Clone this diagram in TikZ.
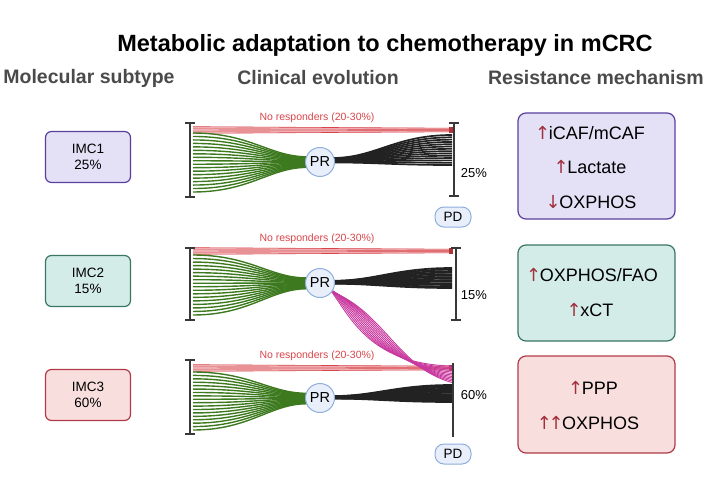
\documentclass[tikz,border=0pt]{standalone}
\usepackage{fontspec}
\setmainfont{Liberation Sans}
\newfontfamily\arrowfont{DejaVu Sans}
\usetikzlibrary{positioning}
\definecolor{headgray}{HTML}{4A4A4A}
\definecolor{purfill}{HTML}{E4E0F6}
\definecolor{purline}{HTML}{5B3F9E}
\definecolor{tealfill}{HTML}{D4ECE7}
\definecolor{tealline}{HTML}{3B7566}
\definecolor{redfill}{HTML}{F9DEDE}
\definecolor{redline}{HTML}{B03A48}
\definecolor{arrowred}{HTML}{A0303C}
\definecolor{prfill}{HTML}{E8EFFA}
\definecolor{prline}{HTML}{8FAEDC}
\definecolor{strandgreen}{HTML}{3D7A1F}
\definecolor{strandblack}{HTML}{222222}
\definecolor{strandpink}{HTML}{C8389E}
\definecolor{respred}{HTML}{D9444A}
\newcommand{\upar}{{\color{arrowred}\arrowfont\char"2191}\kern-1.5pt}
\newcommand{\downar}{{\color{arrowred}\arrowfont\char"2193}\kern-1.5pt}

\begin{document}
\begin{tikzpicture}[x=1pt,y=-1pt,
  header/.style={text=headgray,font=\bfseries\fontsize{19.5}{22}\selectfont},
  subtype/.style={draw,rounded corners=6pt,line width=1.2pt,minimum width=85pt,minimum height=51pt,align=center,font=\fontsize{13.5}{16}\selectfont},
  mech/.style={draw,rounded corners=8pt,line width=1.2pt,minimum width=157pt},
  mechtext/.style={font=\fontsize{18}{20}\selectfont},
  prnode/.style={circle,draw=prline,fill=prfill,line width=1pt,minimum size=29pt,inner sep=0pt,font=\fontsize{14.5}{16}\selectfont},
  pdnode/.style={draw=prline,fill=prfill,line width=1pt,rounded corners=9pt,minimum width=36pt,minimum height=20pt,inner sep=0pt,font=\fontsize{13.5}{15}\selectfont},
  noresp/.style={text=respred,font=\fontsize{10.5}{12}\selectfont},
  pct/.style={font=\fontsize{13}{15}\selectfont},
  bracket/.style={draw=strandblack!90,line width=1.5pt},
  green strand/.style={draw=strandgreen,line width=1.4pt},
  black strand/.style={draw=strandblack,line width=1.7pt},
  pink strand/.style={draw=strandpink,line width=0.9pt},
  red strand/.style={draw=respred,line width=0.6pt}]
\useasboundingbox (0,0) rectangle (706,497);

\node[font=\bfseries\fontsize{23.5}{26}\selectfont] (title) at (385,45) {Metabolic adaptation to chemotherapy in mCRC};
\node[header] (h1) at (89,78) {Molecular subtype};
\node[header] (h2) at (318,78) {Clinical evolution};
\node[header] (h3) at (596,78) {Resistance mechanism};

\node[subtype,draw=purline,fill=purfill] (imc1) at (88,157) {IMC1\\25\%};
\node[subtype,draw=tealline,fill=tealfill] (imc2) at (88,281) {IMC2\\15\%};
\node[subtype,draw=redline,fill=redfill] (imc3) at (88,395) {IMC3\\60\%};

\foreach \yr [count=\n] in {130,251,368}{
  \node[noresp] (nr\n) at (317,\yr-12) {No responders (20-30\%)};
  \fill[respred!35] (193,\yr-3.5) -- (450,\yr-2) -- (450,\yr+2) -- (193,\yr+3.5) -- cycle;
  \foreach \j in {-3,-1,1,3} \draw[red strand] (193,\yr+\j*1.1) -- (450,\yr+\j*0.6);
  \fill[respred!80!black] (449,\yr-3) rectangle (453,\yr+3);
}

\foreach \yc/\ga/\gb/\ka/\kb in {162/133/192/135/165,283/255/315/268/288,398/372/430/385/402}{
  \foreach \i in {0,...,17}{
    \pgfmathsetmacro\ys{\ga+(\gb-\ga)*\i/17}
    \pgfmathsetmacro\ye{\yc+(\ys-\yc)*0.18}
    \draw[green strand] (193,\ys) .. controls (250,\ys) and (270,\ye) .. (307,\ye);
  }
  \foreach \i in {0,...,13}{
    \pgfmathsetmacro\ys{\ka+(\kb-\ka)*\i/13}
    \pgfmathsetmacro\ye{\yc+(\ys-\yc)*0.15}
    \draw[black strand] (333,\ye) .. controls (375,\ye) and (395,\ys) .. (452,\ys);
  }
}

\foreach \i in {0,...,11}
  \draw[pink strand] (327+\i*0.6,286+\i*0.6) .. controls (348+\i*3.2,310+\i*0.2) and (364+\i*3.2,364+\i*0.4) .. (452,366+\i*1.5);

\foreach \xb/\ya/\yb in {190/123/197,454/123/196,190/248/320,456/248/320,190/360/434}
  \draw[bracket] (\xb,\ya) -- (\xb,\yb) (\xb-5,\ya) -- (\xb+5,\ya) (\xb-5,\yb) -- (\xb+5,\yb);
\draw[bracket] (453,363) -- (453,437);

\node[prnode] (pr1) at (320,162) {PR};
\node[prnode] (pr2) at (320,283) {PR};
\node[prnode] (pr3) at (320,398) {PR};
\node[pdnode] (pd1) at (453,217) {PD};
\node[pdnode] (pd3) at (453,454) {PD};
\node[pct] (p1) at (474,173) {25\%};
\node[pct] (p2) at (474,295) {15\%};
\node[pct] (p3) at (474,395) {60\%};

\node[mech,draw=purline,fill=purfill,minimum height=106pt] (mech1) at (596.5,166) {};
\node[mech,draw=tealline,fill=tealfill,minimum height=96pt] (mech2) at (596.5,293) {};
\node[mech,draw=redline,fill=redfill,minimum height=97pt] (mech3) at (596.5,404.5) {};
\node[mechtext] (m11) at (590,133) {\upar iCAF/mCAF};
\node[mechtext] (m12) at (590,167) {\upar Lactate};
\node[mechtext] (m13) at (591,202) {\downar OXPHOS};
\node[mechtext] (m21) at (592,275) {\upar OXPHOS/FAO};
\node[mechtext] (m22) at (590,310) {\upar xCT};
\node[mechtext] (m31) at (593,388) {\upar PPP};
\node[mechtext] (m32) at (588,423) {\upar\kern-2pt\upar OXPHOS};
\end{tikzpicture}
\end{document}
